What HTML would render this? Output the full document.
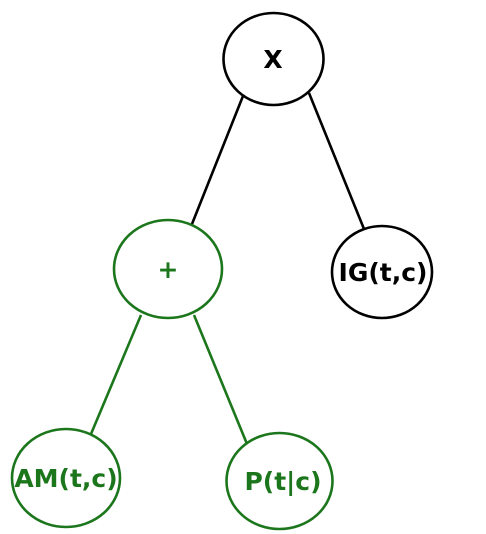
<!DOCTYPE html>
<html><head><style>html,body{margin:0;padding:0;background:#fff;}</style></head>
<body>
<svg width="486" height="534" viewBox="0 0 486 534" xmlns="http://www.w3.org/2000/svg" style="display:block">
<g fill="none" stroke-width="2.6">
<line x1="243" y1="96" x2="192" y2="224" stroke="#000"/>
<line x1="309" y1="93" x2="364" y2="229" stroke="#000"/>
<line x1="141" y1="315" x2="91" y2="434" stroke="#1c761c"/>
<line x1="194" y1="315" x2="247" y2="444" stroke="#1c761c"/>
<ellipse cx="273.5" cy="59" rx="50" ry="46" stroke="#000"/>
<ellipse cx="382" cy="272" rx="50" ry="46" stroke="#000"/>
<ellipse cx="168" cy="269" rx="54" ry="49" stroke="#1c761c"/>
<ellipse cx="66" cy="478" rx="54" ry="49" stroke="#1c761c"/>
<ellipse cx="279.5" cy="481" rx="53" ry="48" stroke="#1c761c"/>
</g>
<g font-family="DejaVu Sans, Liberation Sans, sans-serif" font-weight="bold" font-size="25" text-anchor="middle">
<text x="273" y="68" fill="#000">X</text>
<text x="383" y="281" fill="#000">IG(t,c)</text>
<text x="168" y="278" fill="#1c761c">+</text>
<text x="66" y="487" fill="#1c761c">AM(t,c)</text>
<text x="283" y="490" fill="#1c761c">P(t|c)</text>
</g>
</svg>
</body></html>
